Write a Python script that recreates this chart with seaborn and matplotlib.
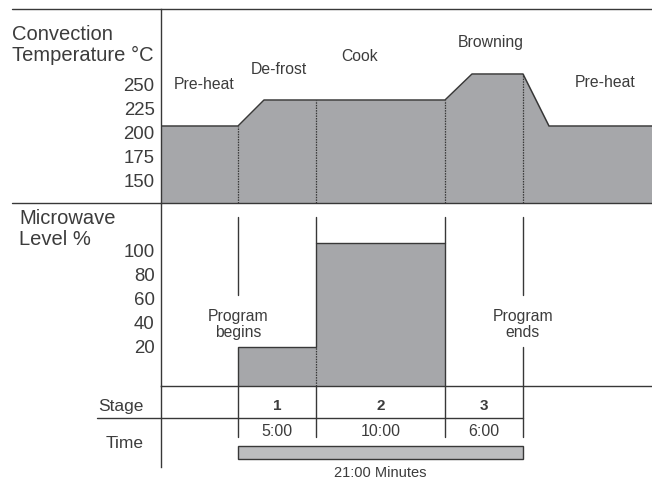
import matplotlib
matplotlib.use('Agg')
import matplotlib.pyplot as plt
import numpy as np
import seaborn as sns

# schematic time axis (arbitrary units, the original is not drawn to scale)
profile_x = [0, 7.7, 10.3, 28.4, 31.1, 36.2, 38.8, 49.1]
profile_temp = [200, 200, 225, 225, 250, 250, 200, 200]

phase_names = ['Pre-heat', 'De-frost', 'Cook', 'Browning', 'Pre-heat']
phase_label_x = [4.3, 11.8, 19.9, 33.0, 44.4]
phase_label_temp = [240, 254, 267, 280, 242]

stage_edges = [7.7, 15.5, 28.4, 36.2]
stage_numbers = ['1', '2', '3']
stage_minutes = [5, 10, 6]
microwave_level = [20, 100]  # stage 3 is convection only

temp_ticks = [150, 175, 200, 225, 250]
mw_ticks = [20, 40, 60, 80, 100]

sns.set_theme(style='white')
plt.rcParams['font.family'] = ['Liberation Sans', 'DejaVu Sans']

ink = '#383838'
text_c = '#3c3c3c'
fill_c = '#a6a7aa'
bar_c = '#bcbdbf'
x_end = profile_x[-1]

fig = plt.figure(figsize=(6.52, 4.80), dpi=100)
left, width = 161 / 652, 491 / 652
ax_t = fig.add_axes([left, 277 / 480, width, 194 / 480])
ax_m = fig.add_axes([left, 94 / 480, width, 183 / 480])
ax_s = fig.add_axes([left, 13 / 480, width, 81 / 480])

for ax in (ax_t, ax_m, ax_s):
    ax.set_xlim(0, x_end)
    ax.set_xticks([])
    for side in ('top', 'right', 'bottom'):
        ax.spines[side].set_visible(False)
    ax.spines['left'].set_color(ink)
    ax.spines['left'].set_linewidth(1.0)
    ax.tick_params(axis='y', length=0, pad=4.5, labelsize=13.4, labelcolor=text_c)
    ax.set_facecolor('none')

# Convection temperature panel
t_lo, t_hi = 126, 312.5
ax_t.fill_between(profile_x, profile_temp, t_lo, color=fill_c, lw=0)
sns.lineplot(x=profile_x, y=profile_temp, ax=ax_t, color=ink, lw=1.1,
             estimator=None, sort=False)
for e in stage_edges:
    ax_t.plot([e, e], [t_lo, np.interp(e, profile_x, profile_temp)],
              color=ink, lw=0.9, ls=(0, (1.2, 0.9)))
ax_t.set_ylim(t_lo, t_hi)
ax_t.set_yticks([193.3 + (v - 200) * 0.923 for v in temp_ticks],
                [str(v) for v in temp_ticks])
for name, x, y in zip(phase_names, phase_label_x, phase_label_temp):
    ax_t.text(x, y, name, ha='center', va='center', fontsize=11.3, color=text_c)
for y in (0, 1):
    ax_t.plot([-0.3035, 1], [y, y], transform=ax_t.transAxes, clip_on=False,
              color=ink, lw=1.0)
ax_t.text(-0.3035, 0.814, 'Convection\nTemperature °C', transform=ax_t.transAxes,
          ha='left', va='center', fontsize=14.5, color=text_c, linespacing=1.15)

# Microwave level panel
m_lo, m_hi = -10.2, 130.5
ax_m.stairs(microwave_level, stage_edges[:3], baseline=m_lo, fill=True,
            color=fill_c, lw=0)
ax_m.stairs(microwave_level, stage_edges[:3], baseline=m_lo, color=ink, lw=1.0)
ax_m.plot([stage_edges[1]] * 2, [m_lo, microwave_level[0]], color=ink, lw=0.9,
          ls=(0, (1.2, 0.9)))
ax_m.set_ylim(m_lo, m_hi)
ax_m.set_yticks([1.35 + v * 0.9225 for v in mw_ticks], [str(v) for v in mw_ticks])
ax_m.spines['bottom'].set_visible(True)
ax_m.spines['bottom'].set_color(ink)
ax_m.spines['bottom'].set_linewidth(1.0)

levels = microwave_level + [0]
def frac(v):
    return (v - m_lo) / (m_hi - m_lo)
for i, e in enumerate(stage_edges):
    if i in (0, len(stage_edges) - 1):
        ax_m.axvline(e, 0.497, 0.9235, color=ink, lw=1.0)
    else:
        ax_m.axvline(e, frac(max(levels[i - 1], levels[i])), 0.9235, color=ink, lw=1.0)
ax_m.axvline(stage_edges[-1], 0, 0.213, color=ink, lw=1.0)
xt = ax_m.get_xaxis_transform()
ax_m.text(stage_edges[0], 0.336, 'Program\nbegins', transform=xt, ha='center',
          va='center', fontsize=11.3, color=text_c, linespacing=1.05)
ax_m.text(stage_edges[-1], 0.336, 'Program\nends', transform=xt, ha='center',
          va='center', fontsize=11.3, color=text_c, linespacing=1.05)
ax_m.text(-0.289, 0.858, 'Microwave\nLevel %', transform=ax_m.transAxes,
          ha='left', va='center', fontsize=14.5, color=text_c, linespacing=1.15)

# Stage / time table
ax_s.set_ylim(81, 0)
ax_s.set_yticks([])
for e in stage_edges:
    ax_s.plot([e, e], [0, 51], color=ink, lw=1.0)
ax_s.plot([-0.13 * x_end, stage_edges[-1]], [32, 32], color=ink, lw=1.0, clip_on=False)
yt = ax_s.get_yaxis_transform()
ax_s.text(-0.035, 20, 'Stage', transform=yt, ha='right', va='center',
          fontsize=12.5, color=text_c)
ax_s.text(-0.035, 57, 'Time', transform=yt, ha='right', va='center',
          fontsize=12.5, color=text_c)
for a, b, num, mins in zip(stage_edges[:-1], stage_edges[1:], stage_numbers, stage_minutes):
    mid = (a + b) / 2
    ax_s.text(mid, 20, num, ha='center', va='center', fontsize=11,
              fontweight='bold', color=text_c)
    ax_s.text(mid, 46, f'{mins}:00', ha='center', va='center', fontsize=11.5,
              color=text_c)
ax_s.barh(66.5, stage_edges[-1] - stage_edges[0], left=stage_edges[0], height=13,
          color=bar_c, edgecolor=ink, lw=1.0)
ax_s.text((stage_edges[0] + stage_edges[-1]) / 2, 87,
          f'{sum(stage_minutes)}:00 Minutes', ha='center', va='center',
          fontsize=10.5, color=text_c, clip_on=False)

fig.savefig('out.png', dpi=100, facecolor='white')
